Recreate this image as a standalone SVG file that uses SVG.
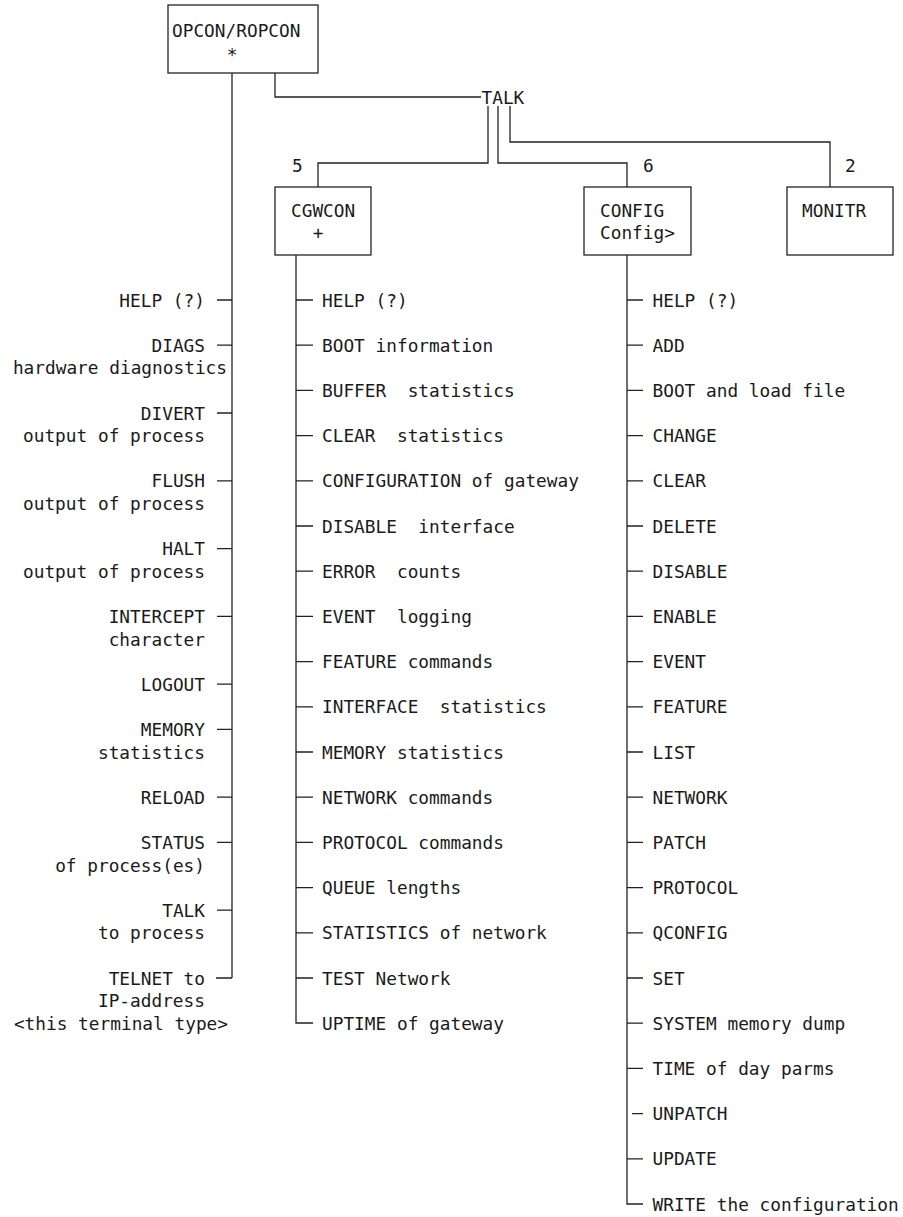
<svg xmlns="http://www.w3.org/2000/svg" width="903" height="1217" viewBox="0 0 903 1217">
<style>
text{font-family:"DejaVu Sans Mono","Liberation Mono",monospace;font-size:17.8px;fill:#1a1a1a;white-space:pre}
.r{text-anchor:end}
.m{text-anchor:middle}
.box{fill:#fff;stroke:#222;stroke-width:1.3}
.ln{fill:none;stroke:#222;stroke-width:1.3}
</style>
<rect width="903" height="1217" fill="#fff"/>
<g id="connectors" class="ln">
<path d="M232,73 V978"/>
<path d="M275,73 V97 H481"/>
<path d="M488,106 V163 H318 V187"/>
<path d="M498,106 V163 H627 V187"/>
<path d="M510,106 V142 H830 V187"/>
<path d="M296,255 V1023 H313"/>
<path d="M627,255 V1204 H643"/>
<path d="M217,300 H232 M217,345.2 H232 M217,413 H232 M217,480.8 H232 M217,548.6 H232 M217,616.4 H232 M217,684.2 H232 M217,729.4 H232 M217,797.2 H232 M217,842.4 H232 M217,910.2 H232 M216,978 H232"/>
<path d="M296,300 H313 M296,345.2 H313 M296,390.4 H313 M296,435.6 H313 M296,480.8 H313 M296,526 H313 M296,571.2 H313 M296,616.4 H313 M296,661.6 H313 M296,706.8 H313 M296,752 H313 M296,797.2 H313 M296,842.4 H313 M296,887.6 H313 M296,932.8 H313 M296,978 H313"/>
<path d="M627,300 H643 M627,345.2 H643 M627,390.4 H643 M627,435.6 H643 M627,480.8 H643 M627,526 H643 M627,571.2 H643 M627,616.4 H643 M627,661.6 H643 M627,706.8 H643 M627,752 H643 M627,797.2 H643 M627,842.4 H643 M627,887.6 H643 M627,932.8 H643 M627,978 H643 M627,1023.2 H643 M627,1068.4 H643 M632,1113.6 H643 M627,1158.8 H643"/>
</g>
<g id="opcon">
<rect class="box" x="168" y="5" width="150" height="68"/>
<text x="172" y="36.5">OPCON/ROPCON</text>
<text class="m" x="232" y="61">*</text>
</g>
<g id="talk"><text x="481.5" y="103.5">TALK</text></g>
<g id="cgwcon">
<text x="292" y="171.5">5</text>
<rect class="box" x="275" y="187" width="96" height="68"/>
<text x="291" y="216.5">CGWCON</text>
<text class="m" x="318" y="239">+</text>
</g>
<g id="config">
<text x="643" y="171.5">6</text>
<rect class="box" x="584" y="187" width="107" height="68"/>
<text x="600" y="216.5">CONFIG</text>
<text x="600" y="239">Config&gt;</text>
</g>
<g id="monitr">
<text x="845" y="171.5">2</text>
<rect class="box" x="787" y="187" width="106" height="68"/>
<text x="802" y="216.5">MONITR</text>
</g>
<g id="opcon-commands">
<text class="r" x="205" y="306.5">HELP (?)</text>
<text class="r" x="205" y="351.7">DIAGS</text>
<text class="r" x="227" y="374.3">hardware diagnostics</text>
<text class="r" x="205" y="419.5">DIVERT</text>
<text class="r" x="205" y="442.1">output of process</text>
<text class="r" x="205" y="487.3">FLUSH</text>
<text class="r" x="205" y="509.9">output of process</text>
<text class="r" x="205" y="555.1">HALT</text>
<text class="r" x="205" y="577.7">output of process</text>
<text class="r" x="205" y="622.9">INTERCEPT</text>
<text class="r" x="205" y="645.5">character</text>
<text class="r" x="205" y="690.7">LOGOUT</text>
<text class="r" x="205" y="735.9">MEMORY</text>
<text class="r" x="205" y="758.5">statistics</text>
<text class="r" x="205" y="803.7">RELOAD</text>
<text class="r" x="205" y="848.9">STATUS</text>
<text class="r" x="205" y="871.5">of process(es)</text>
<text class="r" x="205" y="916.7">TALK</text>
<text class="r" x="205" y="939.3">to process</text>
<text class="r" x="205" y="984.5">TELNET to</text>
<text class="r" x="205" y="1007.1">IP-address</text>
<text class="r" x="228" y="1029.7">&lt;this terminal type&gt;</text>
</g>
<g id="cgwcon-commands">
<text x="322" y="306.5">HELP (?)</text>
<text x="322" y="351.7">BOOT information</text>
<text x="322" y="396.9">BUFFER  statistics</text>
<text x="322" y="442.1">CLEAR  statistics</text>
<text x="322" y="487.3">CONFIGURATION of gateway</text>
<text x="322" y="532.5">DISABLE  interface</text>
<text x="322" y="577.7">ERROR  counts</text>
<text x="322" y="622.9">EVENT  logging</text>
<text x="322" y="668.1">FEATURE commands</text>
<text x="322" y="713.3">INTERFACE  statistics</text>
<text x="322" y="758.5">MEMORY statistics</text>
<text x="322" y="803.7">NETWORK commands</text>
<text x="322" y="848.9">PROTOCOL commands</text>
<text x="322" y="894.1">QUEUE lengths</text>
<text x="322" y="939.3">STATISTICS of network</text>
<text x="322" y="984.5">TEST Network</text>
<text x="322" y="1029.7">UPTIME of gateway</text>
</g>
<g id="config-commands">
<text x="652.5" y="306.5">HELP (?)</text>
<text x="652.5" y="351.7">ADD</text>
<text x="652.5" y="396.9">BOOT and load file</text>
<text x="652.5" y="442.1">CHANGE</text>
<text x="652.5" y="487.3">CLEAR</text>
<text x="652.5" y="532.5">DELETE</text>
<text x="652.5" y="577.7">DISABLE</text>
<text x="652.5" y="622.9">ENABLE</text>
<text x="652.5" y="668.1">EVENT</text>
<text x="652.5" y="713.3">FEATURE</text>
<text x="652.5" y="758.5">LIST</text>
<text x="652.5" y="803.7">NETWORK</text>
<text x="652.5" y="848.9">PATCH</text>
<text x="652.5" y="894.1">PROTOCOL</text>
<text x="652.5" y="939.3">QCONFIG</text>
<text x="652.5" y="984.5">SET</text>
<text x="652.5" y="1029.7">SYSTEM memory dump</text>
<text x="652.5" y="1074.9">TIME of day parms</text>
<text x="652.5" y="1120.1">UNPATCH</text>
<text x="652.5" y="1165.3">UPDATE</text>
<text x="652.5" y="1210.5">WRITE the configuration</text>
</g>
</svg>
